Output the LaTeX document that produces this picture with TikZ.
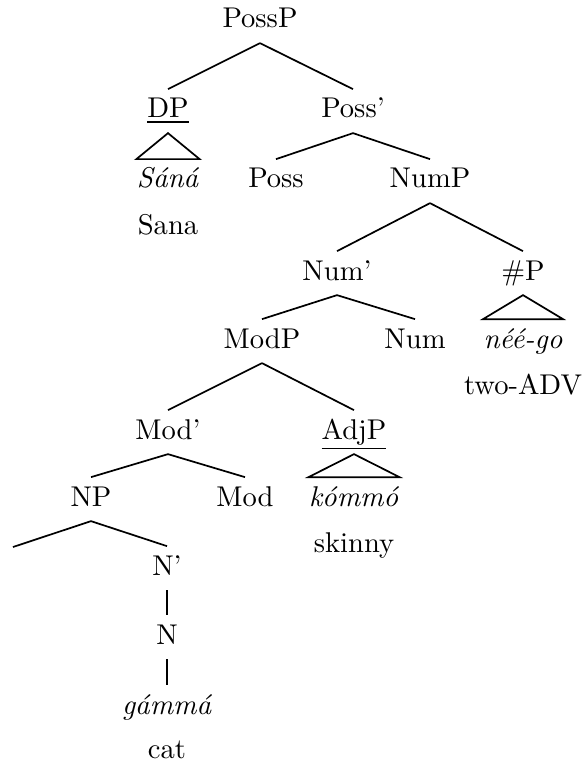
\documentclass[tikz,border=0pt]{standalone}
\usepackage{tikz}

\begin{document}
\begin{tikzpicture}
        [%%%%%%%%%%%%%%%%%%%%%%%%%%%%%%
        x=0.35pt, y=-0.35pt,
        word/.style={anchor=base, inner xsep=0pt, inner ysep=1.5pt, text height=8.4pt, text depth=3.6pt},
        branch/.style={line width=0.6pt},
        ]%%%%%%%%%%%%%%%%%%%%%%%%%%%%%%
        \useasboundingbox (0,0) rectangle (584,767);
        % Labels
        \node[word] (possp) at (260,28) {PossP};
        \node[word] (dp) at (168,118) {\underline{DP}};
        \node[word] (possbar) at (353,118) {Poss'};
        \node[word] (sana) at (168,188) {\textit{Sáná}};
        \node[word] (poss) at (276,188) {Poss};
        \node[word] (nump) at (430,188) {NumP};
        \node[word] (numbar) at (337,280) {Num'};
        \node[word] (hashp) at (523,280) {\#P};
        \node[word] (modp) at (262,348) {ModP};
        \node[word] (num) at (415,348) {Num};
        \node[word] (neego) at (523,348) {\textit{néé-go}};
        \node[word] (modbar) at (168,439) {Mod'};
        \node[word] (adjp) at (354,439) {\underline{AdjP}};
        \node[word] (np) at (91,506) {NP};
        \node[word] (mod) at (245,506) {Mod};
        \node[word] (kommo) at (354,506) {\textit{kómmó}};
        \coordinate (npleft) at (13,547);
        \node[word] (nbar) at (167,575) {N'};
        \node[word] (n) at (167,644) {N};
        \node[word] (gamma) at (167,714) {\textit{gámmá}};
        % Glosses
        \node[word] (sanagl) at (168,234) {Sana};
        \node[word] (neegogl) at (523,394) {two-ADV};
        \node[word] (kommogl) at (354,552) {skinny};
        \node[word] (gammagl) at (167,758) {cat};
        % Branches
        \draw[branch] (possp.south) -- (dp.north);
        \draw[branch] (possp.south) -- (possbar.north);
        \draw[branch] (possbar.south) -- (poss.north);
        \draw[branch] (possbar.south) -- (nump.north);
        \draw[branch] (nump.south) -- (numbar.north);
        \draw[branch] (nump.south) -- (hashp.north);
        \draw[branch] (numbar.south) -- (modp.north);
        \draw[branch] (numbar.south) -- (num.north);
        \draw[branch] (modp.south) -- (modbar.north);
        \draw[branch] (modp.south) -- (adjp.north);
        \draw[branch] (modbar.south) -- (np.north);
        \draw[branch] (modbar.south) -- (mod.north);
        \draw[branch] (np.south) -- (npleft);
        \draw[branch] (np.south) -- (nbar.north);
        \draw[branch] (nbar.south) -- (n.north);
        \draw[branch] (n.south) -- (gamma.north);
        % Roofs
        \draw[branch] (dp.south) -- (sana.north west) -- (sana.north east) -- cycle;
        \draw[branch] (hashp.south) -- (neego.north west) -- (neego.north east) -- cycle;
        \draw[branch] (adjp.south) -- (kommo.north west) -- (kommo.north east) -- cycle;
      \end{tikzpicture}
\end{document}
